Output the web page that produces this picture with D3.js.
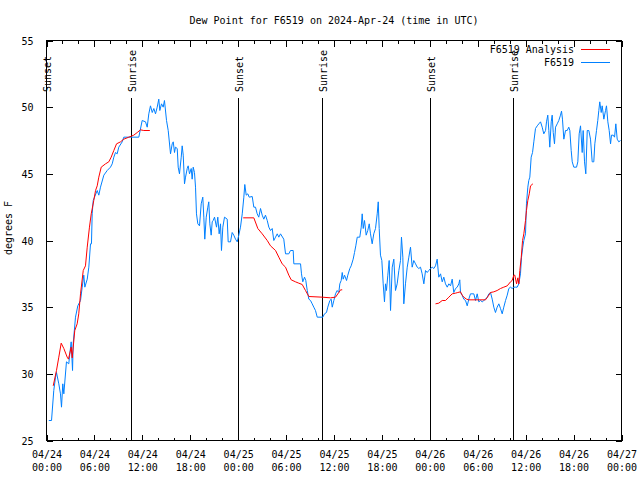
<!DOCTYPE html>
<html><head><meta charset="utf-8">
<script src="https://cdn.jsdelivr.net/npm/d3@7"></script>
<style>
html,body{margin:0;padding:0;background:#fff;}
svg{display:block;}
text{font-family:"DejaVu Sans Mono","Liberation Mono",monospace;font-size:10px;fill:#000;}
</style></head>
<body>
<svg id="chart" width="640" height="480"></svg>
<script>
// ---- data (hours since 2024-04-24 00:00 UTC) ----
const titleText = "Dew Point for F6519 on 2024-Apr-24 (time in UTC)";
const yLabel = "degrees F";
const seriesNames = ["F6519 Analysis", "F6519"];
const seriesColors = ["#ff0000", "#0080ff"];

const xTickHours = [0, 6, 12, 18, 24, 30, 36, 42, 48, 54, 60, 66, 72];
const xTickDates = ["04/24","04/24","04/24","04/24","04/25","04/25","04/25","04/25","04/26","04/26","04/26","04/26","04/27"];
const xTickTimes = ["00:00","06:00","12:00","18:00","00:00","06:00","12:00","18:00","00:00","06:00","12:00","18:00","00:00"];
const yTickValues = [25, 30, 35, 40, 45, 50, 55];

const eventHours = [0.05, 10.65, 24.05, 34.57, 48.08, 58.49];
const eventLabels = ["Sunset", "Sunrise", "Sunset", "Sunrise", "Sunset", "Sunrise"];

const blueHours = [0.29,0.63,0.91,1.13,1.25,1.54,1.75,1.88,2.04,2.17,2.5,2.79,2.92,3.09,3.26,3.34,3.63,3.92,4.26,4.47,4.67,4.8,5.1,5.3,5.51,5.63,5.72,5.85,6.01,6.35,6.55,6.76,7.18,7.6,8.01,8.23,8.43,8.64,8.85,9.05,9.48,9.68,11.56,11.98,12.4,12.61,12.81,13.02,13.24,13.44,13.65,13.86,14.06,14.19,14.4,14.61,14.77,15.03,15.24,15.53,15.74,15.87,16.03,16.15,16.37,16.49,16.65,16.87,16.99,17.12,17.28,17.41,17.62,17.74,17.91,18.12,18.24,18.37,18.53,18.66,18.78,18.95,19.16,19.37,19.57,19.7,19.82,20.0,20.2,20.32,20.45,20.62,20.75,20.87,21.04,21.29,21.45,21.62,21.79,21.91,22.08,22.29,22.63,22.75,23.04,23.25,23.45,23.67,23.88,24.08,24.29,24.51,24.71,24.83,25.01,25.21,25.38,25.76,25.96,26.17,26.38,26.58,26.8,27.01,27.21,27.42,27.64,27.84,28.05,28.26,28.46,28.68,28.89,29.09,29.3,29.71,29.93,30.34,30.55,30.89,30.97,31.81,31.93,32.09,32.31,32.47,32.65,32.85,33.06,33.27,33.47,33.68,33.9,34.6,34.81,35.06,35.22,35.48,35.65,35.78,35.98,36.19,36.4,36.6,36.73,36.9,37.03,37.15,37.32,37.57,37.73,37.98,38.15,38.4,38.57,38.73,38.91,39.23,39.41,39.53,39.66,39.82,40.03,40.23,40.41,40.57,40.78,40.98,41.2,41.41,41.54,41.66,41.82,41.99,42.16,42.32,42.45,42.57,42.74,42.91,43.08,43.29,43.49,43.7,43.91,44.12,44.33,44.45,44.62,44.74,44.95,45.17,45.37,45.58,45.79,45.99,46.21,46.42,46.62,46.83,47.04,47.25,47.46,47.67,47.87,48.09,48.3,48.5,48.71,48.92,49.12,49.34,49.55,49.75,49.96,50.18,50.38,50.59,50.8,51.0,51.22,51.43,51.63,51.75,51.84,52.05,52.25,52.47,52.68,52.88,53.09,53.51,53.72,53.93,54.13,54.35,54.56,54.76,54.97,55.19,55.39,55.6,55.81,56.01,56.22,56.43,56.64,56.85,57.06,57.26,57.48,57.69,57.89,58.1,58.31,58.52,58.73,58.94,59.14,59.35,59.48,59.64,59.77,59.98,60.1,60.27,60.39,60.52,60.69,60.86,61.02,61.23,61.45,61.65,61.86,62.07,62.27,62.49,62.61,62.77,62.9,63.02,63.2,63.32,63.45,63.61,63.74,63.95,64.15,64.36,64.49,64.61,64.78,64.99,65.2,65.4,65.53,65.7,65.83,66.03,66.37,66.53,66.7,66.87,67.08,67.2,67.37,67.53,67.71,67.91,68.12,68.33,68.53,68.66,68.87,69.03,69.16,69.28,69.46,69.58,69.79,70.0,70.12,70.29,70.46,70.63,70.75,70.96,71.13,71.29,71.46,71.66,71.88];
const blueValues = [26.5,26.5,28.75,29.75,30.1,29.25,28.5,27.5,29.25,28.5,30.9,30.75,31.5,32.4,30.25,32.25,34.25,35.1,35.5,36.5,37.4,36.5,37.1,38,39.75,39.75,42,43,43.25,43.75,43.4,44,44.9,45.25,45.5,45.75,46.25,46.6,46.5,47,47.4,47.75,47.75,49,48.9,48.5,49.5,50.1,49.6,49.9,49.5,50,50.6,49.75,50.25,50,50.5,49,48.25,46.5,47.25,47.4,46.6,47,46.9,45.5,45,46.25,47.1,46.4,44.25,44.75,45.4,45.6,45,45.4,44.6,45.5,45.1,44,42,41.25,41.1,42.75,43.25,41.75,40.1,41.75,42.5,42.9,41.25,40.4,41.4,41.5,41.75,41,41.75,40.5,41.25,39.25,41,41.75,41.6,39.9,39.9,40.6,40.4,40.1,39.9,40.4,41,42,43.25,44.2,43.4,43.5,43.25,43.3,42.5,42.5,42,41.75,42.4,41.9,41.6,41.9,41.5,41,40.75,40.9,40,40.25,40.5,40.25,40.5,40.1,39,39,39.25,39.25,38.25,38.25,37.5,36.9,37.25,37,36.25,35.6,35.5,35.25,35,34.75,34.25,34.25,34.5,34.6,35,35.5,35.6,35,35.5,36,36.25,36.1,36.75,37,37.6,37.1,37.4,37,37.4,37.9,38.1,38.6,39.1,39.6,40.25,40.25,41,42,40.9,41.5,40.4,40.75,41.25,40.5,39.75,40.5,40.9,42,42.9,40.9,38.9,38.5,36.75,35.4,36.75,36.25,37.4,38.5,34.75,38,38.6,36.25,36.75,37.75,38.5,40.25,38.75,35.25,36.75,38,38.75,39.5,38,38.5,38.25,38,37.9,38,37.5,36.75,37.75,37.6,37.75,37.9,38,37.9,38.1,38.6,37.25,37.5,36.9,37.25,36.75,36.5,36.75,36.6,37.1,36.1,36.4,36.5,36.75,37.05,36.1,35.9,35.6,35.5,35.1,35.6,36,36,35.5,36,35.4,35.5,35.4,35.5,35.6,35.75,36,36.1,35.6,35,34.6,35,35.25,34.9,34.5,35,35.5,35.9,36.4,36.5,36.4,36.5,36.5,36.5,36.75,37.5,38.75,39.5,40,40.5,42.75,44,44.5,44.75,46.25,46.6,47.4,48.4,48.6,48.75,48.9,48.5,48,48.25,48.9,49.4,48.25,47,48.9,49.4,48.1,47.25,48.5,48.75,49,49.4,49.7,49.1,47.6,48.25,48.25,48.5,48.25,46.75,45.9,45.5,45.5,45.9,48,48.6,46.6,48.25,45.9,45,48.25,48.25,47.6,45.9,45.9,47.25,48.25,49,49.75,50.4,49.6,50.1,49.1,49.75,50.1,48.9,48.25,47.25,47.9,47.9,47.75,48.75,47.6,47.4,47.5];

const redHours = [0.84,1.25,1.54,1.84,2.17,2.59,2.75,3.09,3.22,3.54,3.84,4.04,4.26,4.6,4.88,5.1,5.38,5.6,5.92,6.14,6.35,6.55,6.85,7.39,7.8,8.1,8.43,8.77,9.27,9.68,10.31,10.93,11.36,11.77,12.18,12.94,
  18.0,
  24.63,25.96,26.46,27.01,27.64,28.05,28.68,29.09,29.51,29.93,30.34,30.64,31.18,31.59,32.02,32.43,32.85,34.52,35.56,36.19,36.6,36.82,37.03,
  43.0,
  48.71,49.12,49.55,49.96,50.38,50.8,51.22,51.5,51.84,52.05,52.25,52.59,52.88,54.97,55.39,55.6,56.01,56.43,56.85,57.26,57.69,58.1,58.31,58.52,58.64,58.86,59.02,59.14,59.27,59.45,59.61,59.77,59.98,60.1,60.27,60.45,60.61,60.9];
const redValues = [29.1,30.25,31.25,32.3,31.9,31.25,31.1,32,31.2,33.25,33.75,34.5,36,37.75,38.1,39.5,41,42,43,43.75,44.1,44.75,45.5,45.75,45.9,46.25,46.75,47.25,47.4,47.6,47.75,47.9,48.1,48.3,48.25,48.25,
  null,
  41.7,41.7,40.9,40.5,40,39.6,39.25,38.75,38.25,38,37.4,37.05,36.9,36.8,36.7,36.25,35.8,35.75,35.7,35.75,36.1,36.3,36.3,
  null,
  35.25,35.3,35.5,35.5,35.75,36,36.05,36.1,36.15,35.9,35.75,35.6,35.55,35.55,35.9,36.1,36.15,36.25,36.4,36.5,36.6,36.9,37,37.4,37.4,36.75,37.2,36.75,37.75,38.75,40,40.5,41.5,42.25,43,43.5,44.1,44.25];

// ---- layout ----
const svg = d3.select("#chart");
const L = 46.5, R = 621.5, T = 40.5, B = 440.5;
const x = d3.scaleLinear().domain([0, 72]).range([L, R]);
const y = d3.scaleLinear().domain([25, 55]).range([B, T]);

const crisp = "crispEdges";

// title
svg.append("text").attr("x", (L + R) / 2).attr("y", 24).attr("text-anchor", "middle").text(titleText);

// y label
svg.append("text").attr("transform", "translate(12,228) rotate(-90)").attr("text-anchor", "middle").text(yLabel);

// minor ticks (every 2 hours, not at majors)
const minorHours = d3.range(0, 73, 2).filter(h => h % 6 !== 0);

function styleAxis(g) {
  g.select(".domain").remove();
  g.selectAll("line").attr("stroke", "#000").attr("shape-rendering", crisp);
}

// bottom major
const gB = svg.append("g").attr("transform", `translate(0,${B})`)
  .call(d3.axisBottom(x).tickValues(xTickHours).tickSize(-6).tickPadding(9).tickFormat(""));
styleAxis(gB);
gB.selectAll(".tick text").remove();
gB.selectAll(".tick").each(function(d, i) {
  const t = d3.select(this).append("text").attr("text-anchor", "middle").attr("fill", "#000");
  t.append("tspan").attr("x", 0).attr("y", 17.5).text(xTickDates[i]);
  t.append("tspan").attr("x", 0).attr("y", 30.5).text(xTickTimes[i]);
});
// bottom minor
styleAxis(svg.append("g").attr("transform", `translate(0,${B})`)
  .call(d3.axisBottom(x).tickValues(minorHours).tickSize(-3).tickFormat("")));
// top major + minor
styleAxis(svg.append("g").attr("transform", `translate(0,${T})`)
  .call(d3.axisTop(x).tickValues(xTickHours).tickSize(-6).tickFormat("")));
styleAxis(svg.append("g").attr("transform", `translate(0,${T})`)
  .call(d3.axisTop(x).tickValues(minorHours).tickSize(-3).tickFormat("")));

// left axis
const gL = svg.append("g").attr("transform", `translate(${L},0)`)
  .call(d3.axisLeft(y).tickValues(yTickValues).tickSize(-6).tickPadding(13).tickFormat(d3.format("d")));
styleAxis(gL);
gL.selectAll(".tick text").attr("fill", "#000").attr("dy", "0.36em");
// right axis
const gR = svg.append("g").attr("transform", `translate(${R},0)`)
  .call(d3.axisRight(y).tickValues(yTickValues).tickSize(-6).tickFormat(""));
styleAxis(gR);
svg.selectAll("g").attr("font-family", null).attr("font-size", null);

// border
svg.append("rect").attr("x", L).attr("y", T).attr("width", R - L).attr("height", B - T)
  .attr("fill", "none").attr("stroke", "#000").attr("shape-rendering", crisp);

// sunrise / sunset
eventHours.forEach((h, i) => {
  const xp = Math.round(x(h) - 0.5) + 0.5;
  svg.append("line").attr("x1", xp).attr("x2", xp).attr("y1", 98).attr("y2", B)
    .attr("stroke", "#000").attr("shape-rendering", crisp);
  svg.append("text").attr("transform", `translate(${xp + 4},92) rotate(-90)`)
    .attr("text-anchor", "start").text(eventLabels[i]);
});

// series
const blueData = blueHours.map((h, i) => ({h, v: blueValues[i]}));
const redData = redHours.map((h, i) => ({h, v: redValues[i]}));
const line = d3.line().defined(d => d.v !== null).x(d => x(d.h)).y(d => y(d.v));

svg.append("path").datum(blueData).attr("d", line).attr("fill", "none")
  .attr("stroke", seriesColors[1]).attr("stroke-width", 1).attr("stroke-linejoin", "miter");
svg.append("path").datum(redData).attr("d", line).attr("fill", "none")
  .attr("stroke", seriesColors[0]).attr("stroke-width", 1).attr("stroke-linejoin", "miter");

// legend
seriesNames.forEach((name, i) => {
  const ly = 49.5 + i * 13;
  svg.append("text").attr("x", 574).attr("y", ly + 3.7).attr("text-anchor", "end").text(name);
  svg.append("line").attr("x1", 581).attr("x2", 610).attr("y1", ly).attr("y2", ly)
    .attr("stroke", seriesColors[i]).attr("shape-rendering", crisp);
});
</script>
</body></html>
